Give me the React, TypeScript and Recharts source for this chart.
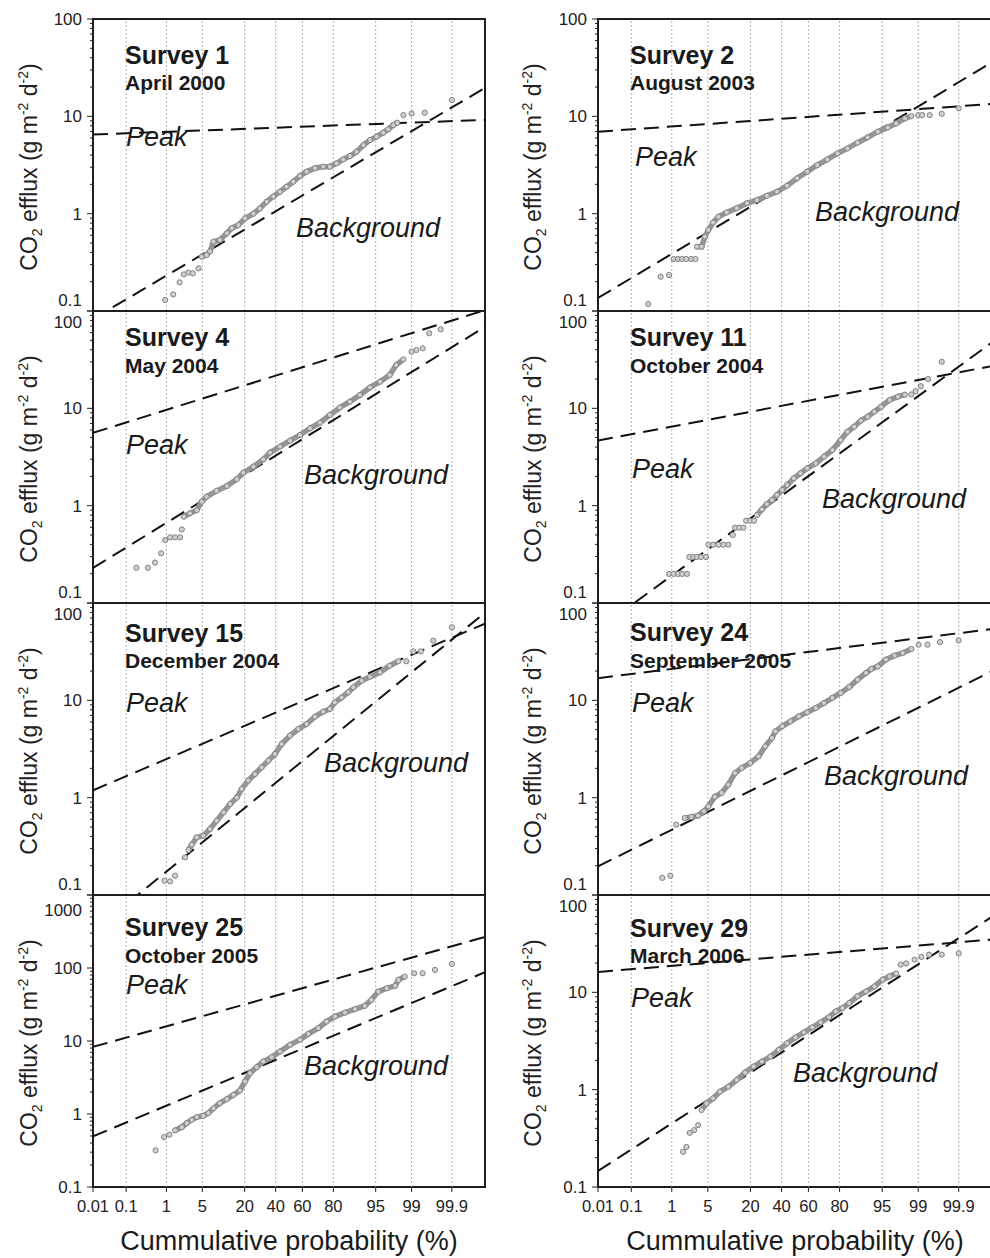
import React from "react";
import { ComposedChart, Scatter, Line, XAxis, YAxis, ReferenceLine, ReferenceArea } from "recharts";

const FONT = '"Liberation Sans", Arial, Helvetica, sans-serif';

// x axis: cumulative probability (%) on a normal-probability scale
const xTickProbs = [0.01, 0.1, 1, 5, 20, 40, 60, 80, 95, 99, 99.9];
const xTickLabels = ["0.01", "0.1", "1", "5", "20", "40", "60", "80", "95", "99", "99.9"];
const xEdgeProbs = [0.01, 99.99];

// y axis decades (log scale)
const yMajors3 = [0.1, 1, 10, 100];
const yMajors4 = [0.1, 1, 10, 100, 1000];

// each survey: cumulative probability (%) and CO2 efflux, plus fitted lines (value at 0.01 % and 99.99 %)
const s1Prob = [0.94, 1.4, 1.9, 2.3, 2.8, 3.4, 4.3, 4.9, 5.9, 6.7, 7.6, 9.5, 11.9, 13.9, 16.9, 20.2, 25, 29, 33.6, 38.3, 43.2, 48.2, 53.3, 58.3, 63.1, 68.9, 74.2, 78.1, 81.7, 84.8, 87.6, 90, 92.1, 93.8, 95.2, 96.3, 97, 97.6, 98, 98.5, 99, 99.5, 99.9];
const s1Flux = [0.13, 0.148, 0.197, 0.238, 0.248, 0.244, 0.274, 0.36, 0.376, 0.41, 0.515, 0.536, 0.63, 0.71, 0.765, 0.895, 1.0, 1.13, 1.33, 1.5, 1.68, 1.89, 2.13, 2.44, 2.7, 2.93, 3.04, 3.04, 3.29, 3.61, 3.91, 4.33, 5.07, 5.71, 6.18, 6.79, 7.35, 8.14, 8.6, 10.3, 10.7, 10.9, 14.7];
const s1Dense = [4.9, 98];
const s1Peak = [6.5, 9.2];
const s1Back = [0.083, 19.6];

const s2Prob = [0.28, 0.56, 0.87, 1.1, 1.36, 1.66, 2.0, 2.5, 3.0, 3.2, 3.9, 4.45, 5.1, 6.1, 7.4, 9.9, 13.6, 18.2, 23.6, 29.8, 36.7, 44.1, 51.6, 59.1, 66.3, 72.9, 78.9, 83.9, 88.1, 91.5, 94.1, 96, 97.2, 98.1, 98.6, 99, 99.18, 99.45, 99.72, 99.9];
const s2Flux = [0.118, 0.225, 0.234, 0.342, 0.342, 0.342, 0.342, 0.342, 0.342, 0.458, 0.458, 0.58, 0.68, 0.81, 0.93, 1.03, 1.14, 1.28, 1.38, 1.53, 1.68, 1.94, 2.31, 2.7, 3.16, 3.61, 4.17, 4.69, 5.36, 6.08, 6.95, 7.7, 8.47, 9.53, 10.07, 10.3, 10.3, 10.3, 10.6, 12.1];
const s2Dense = [3.2, 98.6];
const s2Peak = [6.95, 13.4];
const s2Back = [0.136, 35.9];

const s4Prob = [0.19, 0.37, 0.55, 0.76, 0.94, 1.2, 1.53, 1.94, 2.1, 2.3, 3.0, 4.0, 4.9, 5.9, 8.5, 11.9, 16.1, 19.3, 25, 31.3, 35.9, 43.2, 50.8, 58.3, 65.5, 72.2, 78.1, 83.3, 87.6, 91.1, 93.8, 95.8, 97.2, 97.9, 98.5, 99, 99.22, 99.44, 99.61, 99.8];
const s4Flux = [0.23, 0.23, 0.26, 0.324, 0.443, 0.473, 0.473, 0.473, 0.57, 0.77, 0.834, 0.9, 1.1, 1.24, 1.42, 1.59, 1.87, 2.18, 2.52, 2.99, 3.51, 4.04, 4.65, 5.32, 6.23, 7.13, 8.55, 10.2, 11.7, 13.7, 16.4, 18.8, 22, 27.9, 31.8, 38.2, 39.7, 41.3, 59, 64.9];
const s4Dense = [2.3, 98.5];
const s4Peak = [5.6, 102];
const s4Back = [0.229, 68.7];

const s11Prob = [0.87, 1.1, 1.36, 1.66, 2.07, 2.3, 2.74, 3.2, 3.8, 4.65, 5.1, 6.1, 7.4, 8.8, 10.4, 12, 12.9, 14.7, 16.5, 17.8, 19.9, 22, 23.6, 26.6, 29.8, 33.2, 36.7, 40.4, 44.1, 49.1, 54.2, 59.1, 65.2, 70.8, 76, 80.6, 83.9, 86.8, 89.3, 91.5, 93.3, 94.8, 96.3, 97.4, 98.1, 98.6, 98.85, 99.12, 99.4, 99.72];
const s11Flux = [0.199, 0.199, 0.199, 0.199, 0.199, 0.297, 0.297, 0.297, 0.297, 0.297, 0.397, 0.397, 0.397, 0.397, 0.397, 0.5, 0.594, 0.594, 0.594, 0.7, 0.7, 0.7, 0.8, 0.916, 1.04, 1.14, 1.29, 1.45, 1.63, 1.91, 2.15, 2.42, 2.72, 3.19, 3.73, 4.73, 5.75, 6.48, 7.47, 8.2, 9.24, 10.4, 12.2, 13.2, 13.8, 13.9, 15, 16.9, 20, 30.1];
const s11Dense = [23, 98.2];
const s11Peak = [4.66, 27.2];
const s11Back = [0.0536, 47.6];

const s15Prob = [0.91, 1.2, 1.53, 2.43, 2.82, 3.25, 4.0, 5.2, 6.7, 8.5, 10.7, 13.2, 16.1, 18.5, 22, 25.9, 30.2, 34.8, 39.5, 44.5, 50.8, 57, 63.1, 68.9, 74.2, 78.1, 80.8, 84.1, 87, 88.9, 91.6, 93.8, 95.8, 97.2, 98.1, 98.7, 99.08, 99.38, 99.69, 99.9];
const s15Flux = [0.14, 0.138, 0.158, 0.244, 0.29, 0.329, 0.391, 0.407, 0.477, 0.58, 0.707, 0.86, 1.0, 1.23, 1.5, 1.75, 2.05, 2.4, 2.81, 3.56, 4.34, 5.07, 5.71, 6.79, 7.65, 8.15, 9.53, 10.7, 12.1, 13.6, 15.9, 17.5, 19.4, 22.7, 25.2, 25.2, 31.8, 31.8, 41, 56.2];
const s15Dense = [2.8, 98.1];
const s15Peak = [1.19, 61.4];
const s15Back = [0.0424, 79.6];

const s24Prob = [0.61, 0.93, 1.25, 1.87, 2.53, 3.36, 4.27, 5.1, 6.5, 8.3, 10.4, 12.9, 15.7, 19.9, 24.6, 28.7, 33.2, 35.5, 40.4, 46.6, 52.9, 59.1, 65.2, 70.8, 76, 80.6, 84.7, 88.1, 91, 92.5, 94.1, 95.7, 97, 97.9, 98.6, 99.02, 99.38, 99.69, 99.9];
const s24Flux = [0.15, 0.158, 0.528, 0.618, 0.633, 0.653, 0.724, 0.814, 1.02, 1.12, 1.36, 1.79, 2.02, 2.27, 2.66, 3.37, 4.1, 4.8, 5.41, 6.09, 6.85, 7.53, 8.34, 9.39, 10.6, 11.9, 13.7, 16.3, 19.1, 21, 22.3, 26.2, 28.8, 30.6, 33.7, 37.3, 37.3, 39.7, 41.3];
const s24Dense = [1.8, 98.6];
const s24Peak = [16.9, 54];
const s24Back = [0.197, 19.9];

const s25Prob = [0.57, 0.89, 1.16, 1.53, 2.1, 2.62, 3.25, 4.0, 5.2, 6.3, 7.6, 9.5, 11.9, 14.6, 17.6, 20.2, 23, 27, 31.3, 37.1, 43.2, 50.8, 58.3, 64.3, 71.1, 76.2, 80.8, 85.6, 89.5, 92.5, 94.1, 95.5, 96.8, 97.8, 98.1, 98.6, 99.12, 99.44, 99.72, 99.9];
const s25Flux = [0.318, 0.483, 0.52, 0.596, 0.662, 0.751, 0.834, 0.907, 0.946, 1.03, 1.2, 1.41, 1.6, 1.83, 2.1, 2.79, 3.63, 4.39, 5.25, 6.01, 7.18, 8.87, 10.4, 12.5, 15, 18.5, 21.6, 24.5, 27.3, 30.3, 36.6, 47.5, 52.8, 56.9, 68.7, 76.3, 84.7, 84.7, 94.1, 114];
const s25Dense = [1.5, 98.6];
const s25Peak = [8.3, 266];
const s25Back = [0.493, 87.5];

const s29Prob = [1.73, 2.02, 2.35, 2.85, 3.38, 3.88, 4.75, 6.1, 7.8, 10.4, 13.6, 17.3, 21.7, 26.6, 32.1, 37.9, 44.1, 50.4, 56.7, 62.8, 68.6, 74, 77.9, 81.5, 84.7, 88.1, 91, 93.3, 95.1, 96.3, 97.2, 97.7, 98.2, 98.8, 99.15, 99.43, 99.72, 99.9];
const s29Flux = [0.23, 0.258, 0.36, 0.384, 0.432, 0.617, 0.722, 0.814, 0.953, 1.07, 1.26, 1.5, 1.73, 1.94, 2.19, 2.56, 3.0, 3.44, 3.87, 4.36, 4.91, 5.57, 6.37, 6.89, 7.76, 9.1, 10.2, 11.5, 13.5, 14.6, 15.6, 19.3, 19.8, 21.7, 23.1, 24.4, 24.4, 25.1];
const s29Dense = [3.8, 97.2];
const s29Peak = [16.2, 34.9];
const s29Back = [0.146, 59.8];

// inverse of the standard normal CDF (Acklam), p in percent
function probit(pct: number) {
  const p = pct / 100;
  const a = [-39.69683028665376, 220.9460984245205, -275.9285104469687, 138.357751867269, -30.66479806614716, 2.506628277459239];
  const b = [-54.47609879822406, 161.5858368580409, -155.6989798598866, 66.80131188771972, -13.28068155288572];
  const c = [-0.007784894002430293, -0.3223964580411365, -2.400758277161838, -2.549671035763189, 4.374664141464968, 2.938163982698783];
  const d = [0.007784695709041462, 0.3224671290700398, 2.445134137142996, 3.754408661907416];
  const tail = (q: number) =>
    (((((c[0] * q + c[1]) * q + c[2]) * q + c[3]) * q + c[4]) * q + c[5]) /
    ((((d[0] * q + d[1]) * q + d[2]) * q + d[3]) * q + 1);
  if (p < 0.02425) return tail(Math.sqrt(-2 * Math.log(p)));
  if (p > 1 - 0.02425) return -tail(Math.sqrt(-2 * Math.log(1 - p)));
  const q = p - 0.5;
  const r = q * q;
  return ((((((a[0] * r + a[1]) * r + a[2]) * r + a[3]) * r + a[4]) * r + a[5]) * q) /
    (((((b[0] * r + b[1]) * r + b[2]) * r + b[3]) * r + b[4]) * r + 1);
}

const X_MIN = probit(xEdgeProbs[0]);
const X_MAX = probit(xEdgeProbs[1]);
const xTickZ = xTickProbs.map(probit);
const gridZ = xTickZ.slice(1);

const ROW_TOP = [19, 311, 603, 895];
const PLOT_H = 292;
const PLOT_LEFT = [93, 598];
const PAD = 12;

const panels = [
  { title: "Survey 1", date: "April 2000", prob: s1Prob, flux: s1Flux, dense: s1Dense, peak: s1Peak, back: s1Back, majors: yMajors3, col: 0, row: 0, t: [32, 45, 71], pk: [33, 127], bg: [203, 218] },
  { title: "Survey 2", date: "August 2003", prob: s2Prob, flux: s2Flux, dense: s2Dense, peak: s2Peak, back: s2Back, majors: yMajors3, col: 1, row: 0, t: [32, 45, 71], pk: [37, 147], bg: [217, 202] },
  { title: "Survey 4", date: "May 2004", prob: s4Prob, flux: s4Flux, dense: s4Dense, peak: s4Peak, back: s4Back, majors: yMajors3, col: 0, row: 1, t: [32, 35, 62], pk: [33, 143], bg: [211, 173] },
  { title: "Survey 11", date: "October 2004", prob: s11Prob, flux: s11Flux, dense: s11Dense, peak: s11Peak, back: s11Back, majors: yMajors3, col: 1, row: 1, t: [32, 35, 62], pk: [34, 167], bg: [224, 197] },
  { title: "Survey 15", date: "December 2004", prob: s15Prob, flux: s15Flux, dense: s15Dense, peak: s15Peak, back: s15Back, majors: yMajors3, col: 0, row: 2, t: [32, 39, 65], pk: [33, 109], bg: [231, 169] },
  { title: "Survey 24", date: "September 2005", prob: s24Prob, flux: s24Flux, dense: s24Dense, peak: s24Peak, back: s24Back, majors: yMajors3, col: 1, row: 2, t: [32, 38, 65], pk: [34, 109], bg: [226, 182] },
  { title: "Survey 25", date: "October 2005", prob: s25Prob, flux: s25Flux, dense: s25Dense, peak: s25Peak, back: s25Back, majors: yMajors4, col: 0, row: 3, t: [32, 41, 68], pk: [33, 99], bg: [211, 180] },
  { title: "Survey 29", date: "March 2006", prob: s29Prob, flux: s29Flux, dense: s29Dense, peak: s29Peak, back: s29Back, majors: yMajors3, col: 1, row: 3, t: [32, 42, 68], pk: [33, 112], bg: [195, 187] },
];

function minorTicks(majors: number[]) {
  const out: number[] = [];
  majors.forEach((m, i) => {
    out.push(m);
    if (i < majors.length - 1) {
      for (let k = 2; k <= 9; k++) out.push(Number((m * k).toPrecision(6)));
    }
  });
  return out;
}

const Dot = (p: any) => (
  <circle cx={p.cx} cy={p.cy} r={2.6} fill="#cfcfcf" stroke="#828282" strokeWidth={1} />
);

const XTick = (p: any) => {
  const i = xTickZ.findIndex((z) => Math.abs(z - p.payload.value) < 1e-6);
  return (
    <g>
      <line x1={p.x} x2={p.x} y1={p.y} y2={p.y + 5} stroke="#222" strokeWidth={1} />
      <text x={p.x} y={p.y + 25} textAnchor="middle" fontSize={16.5} fill="#222" fontFamily={FONT}>
        {i >= 0 ? xTickLabels[i] : ""}
      </text>
    </g>
  );
};

function makeYTick(majors: number[], row: number) {
  const lo = majors[0];
  const hi = majors[majors.length - 1];
  return (p: any) => {
    const v = p.payload.value;
    const major = majors.find((m) => Math.abs(m - v) / m < 1e-6);
    let dy = 6;
    if (major === hi && row > 0) dy += majors.length > 4 ? 15 : 11;
    if (major === lo && row < 3) dy -= 11;
    return (
      <g>
        <line x1={p.x} x2={p.x - (major !== undefined ? 6 : 3)} y1={p.y} y2={p.y} stroke="#222" strokeWidth={1} />
        {major !== undefined && (
          <text x={p.x - 11} y={p.y + dy} textAnchor="end" fontSize={17} fill="#222" fontFamily={FONT}>
            {String(major)}
          </text>
        )}
      </g>
    );
  };
}

function Panel({ s }: { s: (typeof panels)[number] }) {
  const bottom = s.row === 3;
  const yMin = s.majors[0];
  const yMax = s.majors[s.majors.length - 1];
  const pts = s.prob.map((p, i) => ({ z: probit(p), v: s.flux[i], p }));
  const body = pts.filter((d) => d.p >= s.dense[0] && d.p <= s.dense[1]);
  const tail = pts.filter((d) => d.p < s.dense[0] || d.p > s.dense[1]);
  const peak = [{ z: X_MIN, v: s.peak[0] }, { z: X_MAX, v: s.peak[1] }];
  const back = [{ z: X_MIN, v: s.back[0] }, { z: X_MAX, v: s.back[1] }];
  const width = s.col === 0 ? 490 : 492;
  return (
    <div style={{ position: "absolute", left: PLOT_LEFT[s.col] - 93, top: ROW_TOP[s.row] - PAD }}>
      <ComposedChart
        width={width}
        height={PAD + PLOT_H + (bottom ? 70 : PAD)}
        margin={{ top: PAD, right: 5, bottom: bottom ? 0 : PAD, left: 33 }}
      >
        <XAxis
          type="number"
          dataKey="z"
          domain={[X_MIN, X_MAX]}
          allowDataOverflow
          hide={!bottom}
          ticks={xTickZ}
          interval={0}
          tick={XTick}
          tickLine={false}
          axisLine={false}
          tickSize={0}
          tickMargin={0}
          height={70}
        />
        <YAxis
          type="number"
          dataKey="v"
          scale="log"
          domain={[yMin, yMax]}
          allowDataOverflow
          ticks={minorTicks(s.majors)}
          interval={0}
          tick={makeYTick(s.majors, s.row)}
          tickLine={false}
          axisLine={false}
          tickSize={0}
          tickMargin={0}
          width={60}
        />
        {gridZ.map((z) => (
          <ReferenceLine key={z} x={z} stroke="#b0b0b0" strokeWidth={1} strokeDasharray="2 2" />
        ))}
        <Scatter data={body} line={{ stroke: "#959595", strokeWidth: 5.5 }} lineType="joint" shape={Dot} isAnimationActive={false} />
        <Scatter data={tail} shape={Dot} isAnimationActive={false} />
        <Line data={peak} dataKey="v" stroke="#111" strokeWidth={2} strokeDasharray="15 8" dot={false} activeDot={false} isAnimationActive={false} />
        <Line data={back} dataKey="v" stroke="#111" strokeWidth={2} strokeDasharray="15 8" dot={false} activeDot={false} isAnimationActive={false} />
        <ReferenceArea x1={X_MIN} x2={X_MAX} y1={yMin} y2={yMax} fill="none" stroke="#1e1e1e" strokeWidth={2} ifOverflow="visible" />
      </ComposedChart>
    </div>
  );
}

function YTitle({ x, cy }: { x: number; cy: number }) {
  return (
    <text transform={`translate(${x},${cy}) rotate(-90)`} textAnchor="middle" fontSize={23} fill="#222">
      CO<tspan fontSize={14} dy={5}>2</tspan>
      <tspan dy={-5}> efflux (g m</tspan>
      <tspan fontSize={14} dy={-9}>-2</tspan>
      <tspan dy={9}> d</tspan>
      <tspan fontSize={14} dy={-9}>-2</tspan>
      <tspan dy={9}>)</tspan>
    </text>
  );
}

export default function App() {
  return (
    <div
      style={{
        position: "absolute",
        left: 0,
        top: 0,
        width: 990,
        height: 1258,
        overflow: "hidden",
        background: "#fff",
        fontFamily: FONT,
      }}
    >
      {panels.map((s) => (
        <Panel key={s.title} s={s} />
      ))}
      <svg width={990} height={1258} style={{ position: "absolute", left: 0, top: 0, pointerEvents: "none" }} fontFamily={FONT}>
        {panels.map((s) => {
          const ox = PLOT_LEFT[s.col];
          const oy = ROW_TOP[s.row];
          return (
            <g key={s.title} fill="#1a1a1a">
              <text x={ox + s.t[0]} y={oy + s.t[1]} fontSize={25} fontWeight="bold">{s.title}</text>
              <text x={ox + s.t[0]} y={oy + s.t[2]} fontSize={21} fontWeight="bold">{s.date}</text>
              <text x={ox + s.pk[0]} y={oy + s.pk[1]} fontSize={27} fontStyle="italic">Peak</text>
              <text x={ox + s.bg[0]} y={oy + s.bg[1]} fontSize={27} fontStyle="italic">Background</text>
            </g>
          );
        })}
        {ROW_TOP.map((t) => (
          <g key={t}>
            <YTitle x={37} cy={t + PLOT_H / 2 + 2} />
            <YTitle x={541} cy={t + PLOT_H / 2 + 2} />
          </g>
        ))}
        <text x={289} y={1250} textAnchor="middle" fontSize={27} fill="#1a1a1a">Cummulative probability (%)</text>
        <text x={795} y={1250} textAnchor="middle" fontSize={27} fill="#1a1a1a">Cummulative probability (%)</text>
      </svg>
    </div>
  );
}
